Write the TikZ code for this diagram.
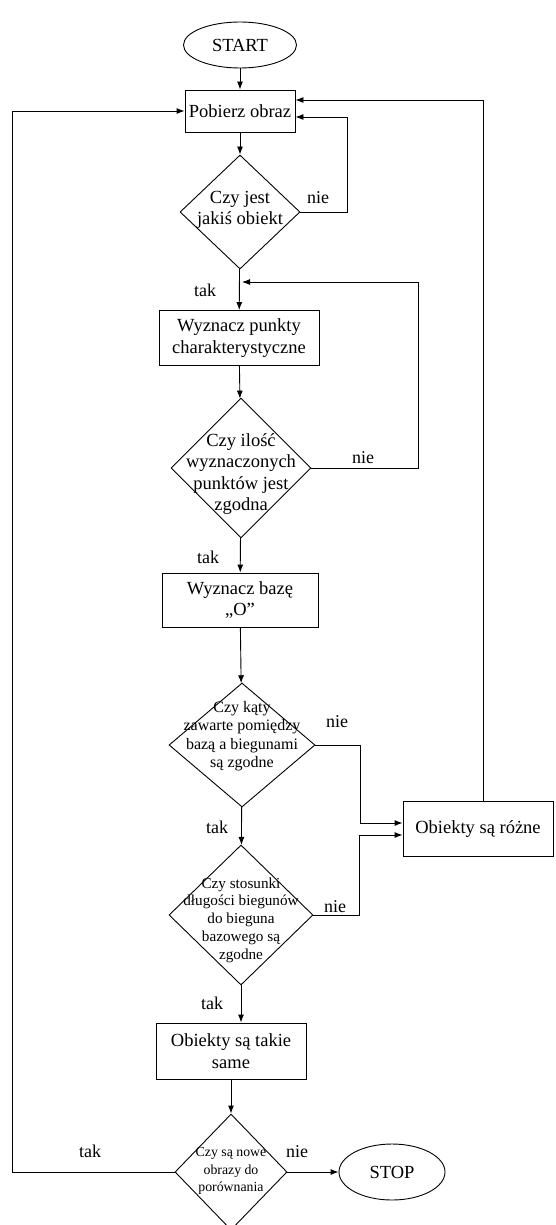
\documentclass[tikz,border=0pt]{standalone}
\usepackage{fontspec}
\setmainfont{Liberation Serif}
\usetikzlibrary{shapes.geometric,arrows.meta}
\tikzset{
    box/.style={rectangle, draw, line width=.9pt, align=center, inner sep=0mm, font=\fontsize{18.5}{21.5}\selectfont},
    term/.style={ellipse, draw, line width=.9pt, inner sep=0mm, font=\fontsize{18.5}{21.5}\selectfont},
    decision/.style={diamond, draw, line width=.9pt, inner sep=0mm},
    lbl/.style={inner sep=0mm, font=\fontsize{18}{21}\selectfont},
    arr/.style={line width=.9pt, -{Latex[length=8pt,width=6pt]}}
}
\tikzset{every label/.style={shape=rectangle, draw=none, align=center, inner sep=0mm}}
\begin{document}
\begin{tikzpicture}[x=1pt, y=-1pt]
        \useasboundingbox (0,0) rectangle (555,1225);
        \node (start) [term, minimum width=113pt, minimum height=46pt] at (240,45) {START};
        \node (pobierz) [box, minimum width=110pt, minimum height=42pt] at (240,111) {Pobierz obraz};
        \node (d1) [decision, minimum width=120pt, minimum height=114pt, label={[font=\fontsize{18.5}{21.5}\selectfont, yshift=2pt]center:{Czy jest\\jakiś obiekt}}] at (240,212) {};
        \node (punkty) [box, minimum width=160pt, minimum height=55pt] at (239,338) {Wyznacz punkty\\charakterystyczne};
        \node (d2) [decision, minimum width=140pt, minimum height=140pt, label={[font=\fontsize{18.5}{21.5}\selectfont, yshift=-6pt]center:{Czy ilość\\wyznaczonych\\punktów jest\\zgodna}}] at (241,468) {};
        \node (baza) [box, minimum width=156pt, minimum height=54pt] at (240,600) {Wyznacz bazę\\„O”};
        \node (d3) [decision, minimum width=146pt, minimum height=124pt, label={[font=\fontsize{16}{18.5}\selectfont, yshift=9pt]center:{Czy kąty\\zawarte pomiędzy\\bazą a biegunami\\są zgodne}}] at (242,745) {};
        \node (rozne) [box, minimum width=150pt, minimum height=55pt] at (478,829) {Obiekty są różne};
        \node (d4) [decision, minimum width=144pt, minimum height=140pt, label={[font=\fontsize{15.2}{17.8}\selectfont, yshift=-5pt]center:{Czy stosunki\\długości biegunów\\do bieguna\\bazowego są\\zgodne}}] at (241,915) {};
        \node (same) [box, minimum width=150pt, minimum height=56pt] at (231,1051) {Obiekty są takie\\same};
        \node (d5) [decision, minimum width=112pt, minimum height=116pt, label={[font=\fontsize{13.8}{17.5}\selectfont, yshift=1pt]center:{Czy są nowe\\obrazy do\\porównania}}] at (231,1172) {};
        \node (stop) [term, minimum width=106pt, minimum height=56pt] at (392,1172) {STOP};
        \node (n1) [lbl] at (318,198) {nie};
        \node (t1) [lbl] at (205,290) {tak};
        \node (n2) [lbl] at (363,458) {nie};
        \node (t2) [lbl] at (208,557) {tak};
        \node (n3) [lbl] at (337,722) {nie};
        \node (t3) [lbl] at (217,827) {tak};
        \node (n4) [lbl] at (335,907) {nie};
        \node (t4) [lbl] at (212,1003) {tak};
        \node (n5) [lbl] at (297,1152) {nie};
        \node (t5) [lbl] at (90,1151) {tak};
        \coordinate (j1) at (242,282);
        \draw [arr] (start) -- (pobierz);
        \draw [arr] (pobierz) -- (d1);
        \draw [arr] (d1.east) -- ++(47,0) |- ([yshift=-6pt]pobierz.east);
        \draw [arr] (d1) -- (punkty);
        \draw [arr] (punkty) -- (d2);
        \draw [arr] (d2.east) -- ++(107,0) |- (j1);
        \draw [arr] (d2) -- (baza);
        \draw [arr] (baza) -- (d3);
        \draw [arr] (d3.east) -- ++(45,0) |- ([yshift=6pt]rozne.west);
        \draw [arr] (d3) -- (d4);
        \draw [arr] (d4.east) -- ++(46,0) |- ([yshift=-6pt]rozne.west);
        \draw [arr] ([xshift=5pt]rozne.north) |- ([yshift=11pt]pobierz.east);
        \draw [arr] (d4.south) -- (d4.south |- same.north);
        \draw [arr] (same) -- (d5);
        \draw [arr] (d5.east) -- (stop.west);
        \draw [arr] (d5.west) -- ++(-162,0) |- (pobierz.west);
\end{tikzpicture}
\end{document}
